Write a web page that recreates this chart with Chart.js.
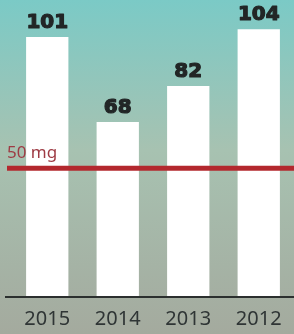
<!DOCTYPE html>
<html>
<head>
<meta charset="utf-8">
<script src="https://cdn.jsdelivr.net/npm/chart.js@4.4.0/dist/chart.umd.min.js"></script>
<style>
  html, body { margin: 0; padding: 0; background: #a4aa9e; }
  #wrap { width: 294px; height: 334px; }
</style>
</head>
<body>
<div id="wrap"><canvas id="chart"></canvas></div>
<script>
const years = ['2015', '2014', '2013', '2012'];
const amounts = [101, 68, 82, 104];
const limitValue = 50;
const limitLabel = '50 mg';

// gradient backdrop behind everything
const backdrop = {
    id: 'backdrop',
    beforeDraw(chart) {
        const ctx = chart.ctx;
        const g = ctx.createLinearGradient(0, 0, 0, chart.height);
        g.addColorStop(0, '#7bcac6');
        g.addColorStop(0.45, '#a7c2b1');
        g.addColorStop(1, '#a4aa9e');
        ctx.save();
        ctx.fillStyle = g;
        ctx.fillRect(0, 0, chart.width, chart.height);
        ctx.restore();
    }
};

// value labels, limit line and baseline
const extras = {
    id: 'extras',
    afterDatasetsDraw(chart) {
        const ctx = chart.ctx;
        const y = chart.scales.y;
        const area = chart.chartArea;
        ctx.save();

        // baseline
        ctx.strokeStyle = '#2b2f2e';
        ctx.lineWidth = 2;
        ctx.beginPath();
        ctx.moveTo(5, area.bottom);
        ctx.lineTo(chart.width, area.bottom);
        ctx.stroke();

        // limit line
        const ly = y.getPixelForValue(limitValue);
        ctx.strokeStyle = '#b3282e';
        ctx.lineWidth = 5;
        ctx.beginPath();
        ctx.moveTo(7, ly);
        ctx.lineTo(chart.width, ly);
        ctx.stroke();

        ctx.fillStyle = '#9e3b44';
        ctx.font = '17px "Noto Sans"';
        ctx.textAlign = 'left';
        ctx.textBaseline = 'alphabetic';
        ctx.fillText(limitLabel, 7, ly - 10);

        // bar values, a touch of stroke to make them heavier
        ctx.fillStyle = '#222626';
        ctx.strokeStyle = '#222626';
        ctx.lineWidth = 1.2;
        ctx.lineJoin = 'round';
        ctx.font = 'bold 20px "DejaVu Sans"';
        ctx.textAlign = 'center';
        chart.getDatasetMeta(0).data.forEach((bar, i) => {
            ctx.fillText(amounts[i], bar.x, bar.y - 9);
            ctx.strokeText(amounts[i], bar.x, bar.y - 9);
        });
        ctx.restore();
    }
};

new Chart(document.getElementById('chart'), {
    type: 'bar',
    data: {
        labels: years,
        datasets: [{
            data: amounts,
            backgroundColor: '#ffffff',
            barPercentage: 0.6,
            categoryPercentage: 1
        }]
    },
    options: {
        responsive: true,
        maintainAspectRatio: false,
        animation: false,
        layout: { padding: { left: 12, right: 0, top: 0, bottom: 0 } },
        plugins: { legend: { display: false }, tooltip: { enabled: false } },
        scales: {
            x: {
                grid: { display: false, drawTicks: false },
                border: { display: false },
                ticks: { color: '#2f3535', font: { family: 'Noto Sans', size: 20 }, padding: 10 },
                afterFit(scale) { scale.height = 37; }
            },
            y: {
                display: false,
                min: 0,
                max: 115.4
            }
        }
    },
    plugins: [backdrop, extras]
});
</script>
</body>
</html>
